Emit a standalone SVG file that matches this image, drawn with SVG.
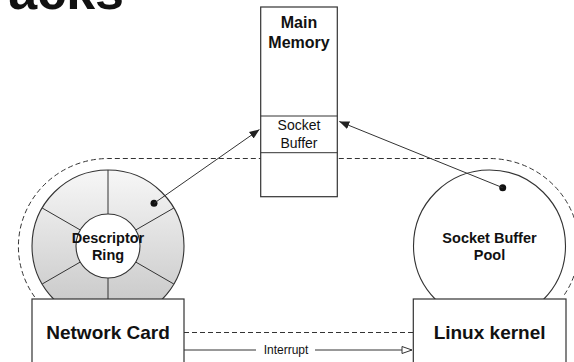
<svg xmlns="http://www.w3.org/2000/svg" width="574" height="362" viewBox="0 0 574 362">
  <defs>
    <linearGradient id="ringGrad" x1="0" y1="0" x2="0" y2="1">
      <stop offset="0" stop-color="#f7f7f7"/>
      <stop offset="1" stop-color="#c4c4c4"/>
    </linearGradient>
    <marker id="arrowFilled" viewBox="0 0 10 10" refX="10" refY="5" markerWidth="10" markerHeight="10" markerUnits="userSpaceOnUse" orient="auto">
      <path d="M0,1 L10,5 L0,9 z" fill="#222"/>
    </marker>
    <marker id="arrowOpen" viewBox="0 0 12 10" refX="11" refY="5" markerWidth="12" markerHeight="10" markerUnits="userSpaceOnUse" orient="auto">
      <path d="M1,1.5 L11,5 L1,8.5 z" fill="#fff" stroke="#333" stroke-width="1"/>
    </marker>
  </defs>
  <style>
    .box { fill: #fff; stroke: #333; stroke-width: 1.2; }
    .line { fill: none; stroke: #333; stroke-width: 1; }
    .dash { fill: none; stroke: #333; stroke-width: 1; stroke-dasharray: 5 3; }
    .bold { font-family: "Liberation Sans", Arial, sans-serif; font-weight: bold; fill: #111; text-anchor: middle; }
    .reg { font-family: "Liberation Sans", Arial, sans-serif; fill: #111; text-anchor: middle; }
  </style>
  <rect width="574" height="362" fill="#fff"/>

  <text x="124" y="9" font-family="Liberation Sans, Arial, sans-serif" font-weight="bold" font-size="52" text-anchor="end" fill="#111">acks</text>

  <g id="connectors">
    <path class="dash" d="M 34.7 297 A 90 88 0 0 1 108 158.5 L 489.5 158.5 A 90 88 0 0 1 562.8 297"/>
    <line class="dash" x1="184" y1="332.5" x2="413" y2="332.5"/>
    <line class="line" x1="184" y1="350" x2="256" y2="350"/>
    <line class="line" x1="315" y1="350" x2="412" y2="350" marker-end="url(#arrowOpen)"/>
    <text class="reg" x="286" y="354" font-size="12">Interrupt</text>
  </g>

  <g id="main-memory">
    <rect class="box" x="260.7" y="7" width="76.6" height="189.7"/>
    <line class="line" x1="260.7" y1="116" x2="337.3" y2="116"/>
    <line class="line" x1="260.7" y1="152.7" x2="337.3" y2="152.7"/>
    <text class="bold" x="299" y="28" font-size="16">Main</text>
    <text class="bold" x="299" y="48" font-size="16">Memory</text>
  </g>

  <g id="socket-buffer">
    <text class="reg" x="299" y="130" font-size="14">Socket</text>
    <text class="reg" x="299" y="148" font-size="14">Buffer</text>
  </g>

  <g id="descriptor-ring">
    <circle cx="108" cy="246" r="76" fill="url(#ringGrad)" stroke="#333" stroke-width="1.1"/>
    <line class="line" x1="108" y1="214" x2="108" y2="170"/>
    <line class="line" x1="135.7" y1="230" x2="173.8" y2="208"/>
    <line class="line" x1="135.7" y1="262" x2="173.8" y2="284"/>
    <line class="line" x1="108" y1="278" x2="108" y2="322"/>
    <line class="line" x1="80.3" y1="262" x2="42.2" y2="284"/>
    <line class="line" x1="80.3" y1="230" x2="42.2" y2="208"/>
    <circle cx="108" cy="246" r="32" fill="#fff" stroke="#333" stroke-width="1.1"/>
    <text class="bold" x="108" y="243" font-size="14.5">Descriptor</text>
    <text class="bold" x="108" y="260" font-size="14.5">Ring</text>
  </g>

  <g id="socket-buffer-pool">
    <circle cx="489.5" cy="246" r="76" fill="#fff" stroke="#333" stroke-width="1.1"/>
    <text class="bold" x="489.5" y="243" font-size="14.5">Socket Buffer</text>
    <text class="bold" x="489.5" y="260" font-size="14.5">Pool</text>
  </g>

  <g id="arrows">
    <circle cx="154" cy="203.3" r="3.5" fill="#111"/>
    <line class="line" x1="154" y1="203.3" x2="259.5" y2="129.5" marker-end="url(#arrowFilled)"/>
    <circle cx="502.7" cy="187.7" r="3.5" fill="#111"/>
    <line class="line" x1="502.7" y1="187.7" x2="339.3" y2="121.5" marker-end="url(#arrowFilled)"/>
  </g>

  <g id="network-card">
    <rect class="box" x="32" y="299" width="152" height="80"/>
    <text class="bold" x="108" y="338.5" font-size="19">Network Card</text>
  </g>

  <g id="linux-kernel">
    <rect class="box" x="413.3" y="299" width="152.7" height="80"/>
    <text class="bold" x="489.6" y="338.5" font-size="19">Linux kernel</text>
  </g>
</svg>
